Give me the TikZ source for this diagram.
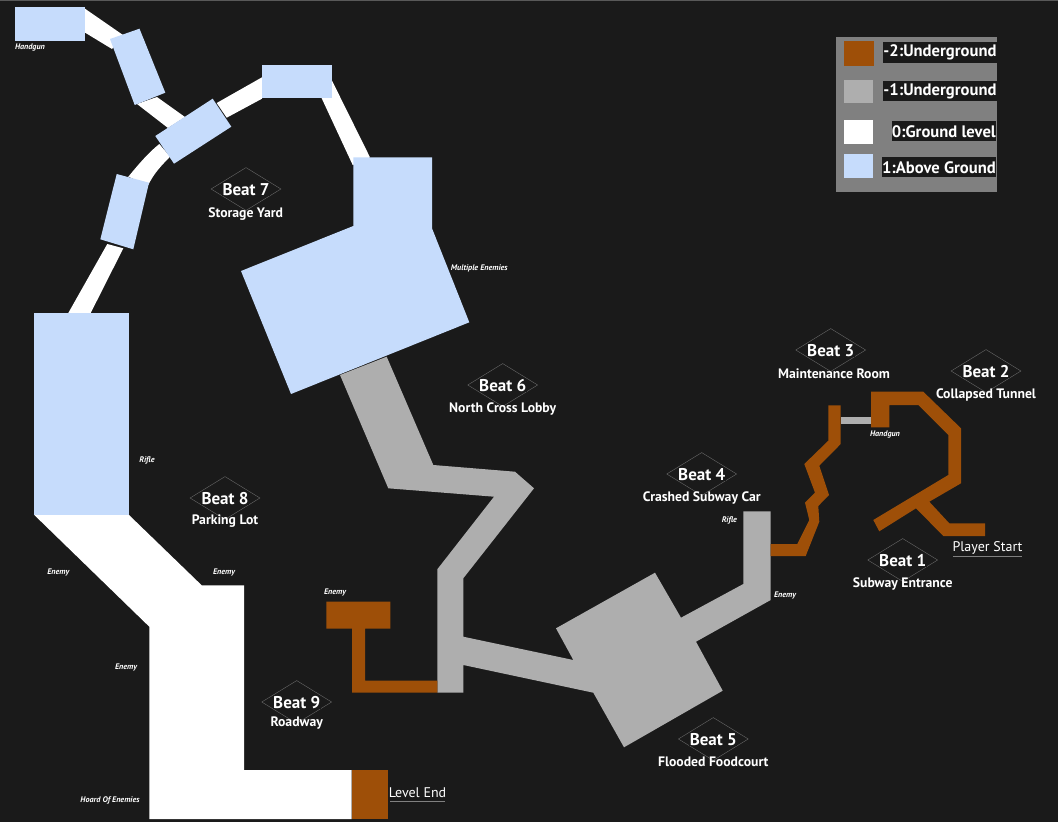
\documentclass[tikz,border=0pt]{standalone}
\usepackage{fontspec}
\setmainfont{PT Sans}
\usetikzlibrary{shapes.geometric}
\definecolor{bgdark}{RGB}{26,26,26}
\definecolor{lvlbrown}{RGB}{158,79,8}
\definecolor{lvlgray}{RGB}{174,174,174}
\definecolor{lvlblue}{RGB}{198,220,252}
\definecolor{keygray}{RGB}{128,128,128}
\definecolor{markline}{RGB}{105,105,105}
\tikzset{
  beatmark/.style={draw=markline,line width=0.4pt,shape=diamond,minimum width=70pt,minimum height=43pt,inner sep=0pt},
  beatname/.style={fill=bgdark,text=white,yshift=-0.7pt,font=\fontsize{17}{17}\selectfont\bfseries,inner sep=0.5pt},
  roomname/.style={text=white,yshift=-0.7pt,font=\fontsize{13.7}{14}\selectfont\bfseries,inner sep=0.5pt},
  pickup/.style={text=white,yshift=-1pt,font=\fontsize{8.1}{9}\selectfont\bfseries\itshape,inner sep=0pt},
  endname/.style={text=white,font=\fontsize{14}{15}\selectfont,inner sep=0pt},
  keyname/.style={fill=bgdark,text=white,yshift=-0.7pt,font=\fontsize{16.6}{17}\selectfont\bfseries,anchor=east,inner sep=0pt,minimum height=20.5pt},
}
\begin{document}
\begin{tikzpicture}[x=1pt,y=-1pt]
  \useasboundingbox (0,0) rectangle (1058,822);
  \fill[bgdark] (0,0) rectangle (1058,822);
  \draw[gray!70!black,line width=1pt] (0,0.5) -- (1058,0.5);
  % Above ground: connectors
  \fill[white] (84,8)--(123,35)--(112,49)--(84,32)--cycle;
  \fill[white] (137,104)--(157,97)--(185,117)--(168,128)--cycle;
  \fill[white] (216.7,103)--(262,77.3)--(262,98.7)--(226.7,117.7)--cycle;
  \fill[white] (331.7,80)--(370,157.3)--(352.7,165)--(321.7,98.3)--cycle;
  \fill[white] (159.3,144) ..controls (148,153) and (138,165).. (128.3,176.7)
    --(148.3,185) ..controls (154,173) and (162,165).. (170,156.7)--cycle;
  \fill[white] (107.3,244)--(123.3,248.3)--(90.7,313)--(68.3,313)--cycle;
  % Ground level
  \fill[white] (34,514.7)--(128.7,514.7)--(201.7,585.3)--(244,585.3)--(244,770)
    --(351.7,770)--(351.7,819)--(149.3,819)--(149.3,626.7)--cycle;
  % Above ground: rooms
  \fill[lvlblue] (15,7) rectangle (84.5,40.5);
  \fill[lvlblue] (110,39)--(139.5,28.7)--(165.3,92.7)--(134.7,105)--cycle;
  \fill[lvlblue] (155.3,136)--(212.7,98.7)--(231.3,126.7)--(174,163.7)--cycle;
  \fill[lvlblue] (262,65) rectangle (331.7,98.3);
  \fill[lvlblue] (116.7,174)--(149,182.7)--(133.3,249.3)--(100.3,239.3)--cycle;
  \fill[lvlblue] (34,312.5) rectangle (128.7,514.7);
  \fill[lvlblue] (353.3,157.3)--(432,157.3)--(432,228.3)--(469.3,322.3)--(291,394)
    --(241,271)--(353.3,226)--cycle;
  % Underground -1
  \fill[lvlgray] (340,375)--(386.7,356.7)--(433.3,465)--(515,471.7)--(534,488.3)
    --(463.3,578.3)--(463.3,636.7)--(573.3,660)--(556,628.3)--(655,572.7)
    --(681,617.7)--(743.3,584)--(743.3,511.3)--(770.7,511.3)--(770.7,600)
    --(696,641.7)--(722.7,690.7)--(624,747.3)--(593.3,692.7)--(463.3,665)
    --(463.3,692.7)--(437.3,692.7)--(437.3,569.3)--(494,496.7)--(388.3,488.3)--cycle;
  \fill[lvlgray] (840.7,416.7) rectangle (871,424);
  % Underground -2
  \fill[lvlbrown] (351.7,770) rectangle (388.3,819);
  \fill[lvlbrown] (326.3,601.7)--(390.3,601.7)--(390.3,628.7)--(365,628.7)--(365,680.7)
    --(437.3,680.7)--(437.3,692.7)--(352,692.7)--(352,628.7)--(326.3,628.7)--cycle;
  \fill[lvlbrown] (770.7,544)--(797.3,544)--(809.3,520)--(805,502.7)--(815,492.7)
    --(804.3,464)--(828.3,440.7)--(828.3,405.3)--(840.7,405.3)--(840.7,444)
    --(819.3,465.7)--(829,495)--(818.3,506)--(819.3,521.7)--(805.7,556)--(770.7,556)--cycle;
  \fill[lvlbrown] (871,391.7)--(923.3,391.7)--(961,428.3)--(961,483.3)--(929.3,501.7)
    --(949.3,523.3)--(985,523.3)--(985,536)--(943.3,536)--(916,508.3)--(879.3,531.3)
    --(873.3,520)--(948.3,475)--(948.3,435)--(918.3,405)--(889.3,405)--(889.3,427.3)
    --(871,427.3)--cycle;
  % Beat labels
  \node[beatmark] (mark1) at (902.7,560){};
  \node[beatname] (beat1) at (902.7,560){Beat 1};
  \node[roomname] (room1) at (902.7,583.3){Subway Entrance};
  \node[beatmark] (mark2) at (986,371){};
  \node[beatname] (beat2) at (986,371){Beat 2};
  \node[roomname] (room2) at (986,394){Collapsed Tunnel};
  \node[beatmark] (mark3) at (830.7,350){};
  \node[beatname] (beat3) at (830.7,350){Beat 3};
  \node[roomname] (room3) at (834,373){Maintenance Room};
  \node[beatmark] (mark4) at (701.7,474){};
  \node[beatname] (beat4) at (701.7,474){Beat 4};
  \node[roomname] (room4) at (701.7,497.3){Crashed Subway Car};
  \node[beatmark] (mark5) at (713.3,739){};
  \node[beatname] (beat5) at (713.3,739){Beat 5};
  \node[roomname] (room5) at (713.3,760.7){Flooded Foodcourt};
  \node[beatmark] (mark6) at (502.7,385){};
  \node[beatname] (beat6) at (502.7,385){Beat 6};
  \node[roomname] (room6) at (502.7,408.3){North Cross Lobby};
  \node[beatmark] (mark7) at (246,189){};
  \node[beatname] (beat7) at (246,189){Beat 7};
  \node[roomname] (room7) at (245.7,213.3){Storage Yard};
  \node[beatmark] (mark8) at (225,498){};
  \node[beatname] (beat8) at (225,498){Beat 8};
  \node[roomname] (room8) at (225,520.5){Parking Lot};
  \node[beatmark] (mark9) at (296.7,702){};
  \node[beatname] (beat9) at (296.7,702){Beat 9};
  \node[roomname] (room9) at (296.7,722.7){Roadway};
  % Pickups and enemies
  \node[pickup] (gun1) at (30,47){Handgun};
  \node[pickup] (gun2) at (885,433.3){Handgun};
  \node[pickup] (many) at (479.3,267.3){Multiple Enemies};
  \node[pickup] (rifle1) at (147,459){Rifle};
  \node[pickup] (rifle2) at (729.3,519.3){Rifle};
  \node[pickup] (foe1) at (58.3,571.3){Enemy};
  \node[pickup] (foe2) at (224,571.3){Enemy};
  \node[pickup] (foe3) at (335,591.3){Enemy};
  \node[pickup] (foe4) at (126,666.3){Enemy};
  \node[pickup] (foe5) at (785,594){Enemy};
  \node[pickup] (hoard) at (110,799){Hoard Of Enemies};
  % Start and end
  \node[endname] (start) at (987.5,547.7){Player Start};
  \draw[gray,line width=0.5pt] (953,556)--(1022,556);
  \node[endname] (finish) at (417.5,793){Level End};
  \draw[gray,line width=0.5pt] (390,801.7)--(445,801.7);
  % Legend
  \fill[keygray] (836,36.7) rectangle (997.3,191.7);
  \fill[lvlbrown] (843.5,41.3) rectangle (873.5,65.7);
  \fill[lvlgray] (844,80) rectangle (873.3,103.3);
  \fill[white] (844,120) rectangle (873.3,144);
  \fill[lvlblue] (844,154.3) rectangle (873.3,178);
  \node[keyname] (key2) at (996.7,52){-2:Underground};
  \node[keyname] (key1) at (996.7,90.3){-1:Underground};
  \node[keyname] (key0) at (996,130.5){0:Ground level};
  \node[keyname] (keyup) at (996,166.5){1:Above Ground};
\end{tikzpicture}
\end{document}
